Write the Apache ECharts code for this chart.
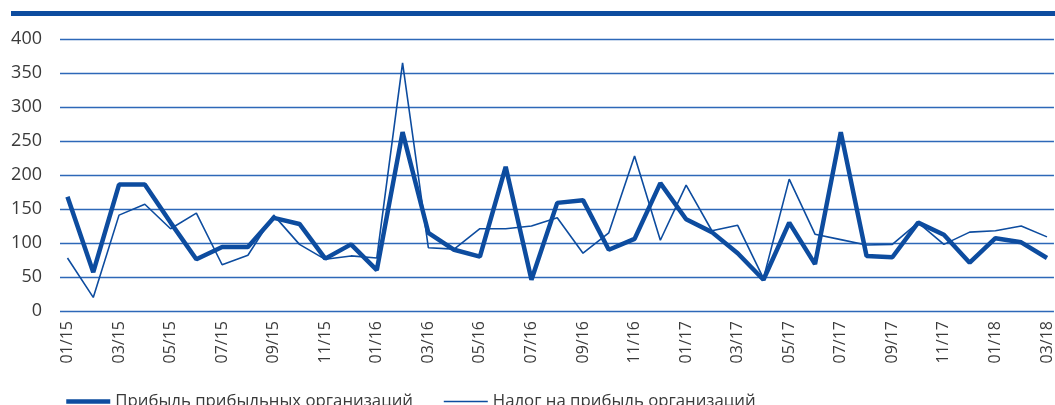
<!DOCTYPE html>
<html lang="ru">
<head>
<meta charset="UTF-8">
<script src="https://cdn.jsdelivr.net/npm/echarts@6.0.0/dist/echarts.min.js"></script>
<style>
  html, body { margin: 0; padding: 0; background: #fff; }
  #chart { width: 1055px; height: 405px; }
</style>
</head>
<body>
<div id="chart"></div>
<script>
// месяцы 01/15 .. 03/18
var months = [
  '01/15','02/15','03/15','04/15','05/15','06/15','07/15','08/15','09/15','10/15','11/15','12/15',
  '01/16','02/16','03/16','04/16','05/16','06/16','07/16','08/16','09/16','10/16','11/16','12/16',
  '01/17','02/17','03/17','04/17','05/17','06/17','07/17','08/17','09/17','10/17','11/17','12/17',
  '01/18','02/18','03/18'
];
var profit = [168, 57, 186, 186, 130, 76, 94, 94, 137, 128, 77, 98, 60,
  263, 115, 90, 80, 212, 46, 159, 163, 90, 106, 188, 135, 116, 85, 46,
  130, 69, 263, 81, 79, 130, 112, 71, 107, 101, 78];
var tax = [78, 20, 141, 157, 121, 144, 68, 82, 141, 98, 76, 81, 78,
  365, 93, 91, 121, 121, 125, 137, 85, 115, 228, 104, 185, 118, 126, 48,
  194, 113, 105, 97, 98, 130, 98, 116, 118, 125, 109];
var yTicks = [0, 50, 100, 150, 200, 250, 300, 350, 400];
var labelIdx = [];
for (var i = 0; i < months.length; i += 2) labelIdx.push(i);

var blue = '#0d4c9f';

function pairs(arr) {
  return arr.map(function (v, i) { return [i, v]; });
}

var chart = echarts.init(document.getElementById('chart'));
chart.setOption({
  animation: false,
  textStyle: { fontFamily: 'Open Sans' },
  graphic: [{
    type: 'rect',
    shape: { x: 11, y: 11, width: 1044, height: 5 },
    style: { fill: blue }
  }],
  grid: { left: 60, right: 0, top: 39, bottom: 94 },
  legend: {
    left: 64, top: 393, padding: 0,
    itemWidth: 44, itemHeight: 14, itemGap: 30,
    itemStyle: { opacity: 0 },
    lineStyle: { width: 'inherit' },
    textStyle: { fontSize: 16.8, color: '#3a3a3a', fontFamily: 'Open Sans' },
    data: ['Прибыль прибыльных организаций', 'Налог на прибыль организаций']
  },
  xAxis: {
    type: 'value',
    min: -0.29, max: 38.27,
    axisLine: { show: false },
    axisTick: { show: false },
    splitLine: { show: false },
    axisLabel: {
      customValues: labelIdx,
      rotate: 90,
      margin: 10,
      fontSize: 16,
      color: '#3a3a3a',
      formatter: function (v) { return months[Math.round(v)]; }
    }
  },
  yAxis: {
    type: 'value',
    min: yTicks[0], max: yTicks[yTicks.length - 1], interval: 50,
    axisLine: { show: false },
    axisTick: { show: false },
    axisLabel: { fontSize: 18, color: '#3a3a3a', margin: 18 },
    splitLine: { show: true, lineStyle: { color: '#2d68b8', width: 1.3, opacity: 1 } }
  },
  series: [{
    name: 'Прибыль прибыльных организаций',
    type: 'line',
    data: pairs(profit),
    symbol: 'none',
    lineStyle: { color: blue, width: 4.5 },
    itemStyle: { color: blue },
    z: 3
  }, {
    name: 'Налог на прибыль организаций',
    type: 'line',
    data: pairs(tax),
    symbol: 'none',
    lineStyle: { color: blue, width: 1.6 },
    itemStyle: { color: blue },
    z: 2
  }]
});
</script>
</body>
</html>
